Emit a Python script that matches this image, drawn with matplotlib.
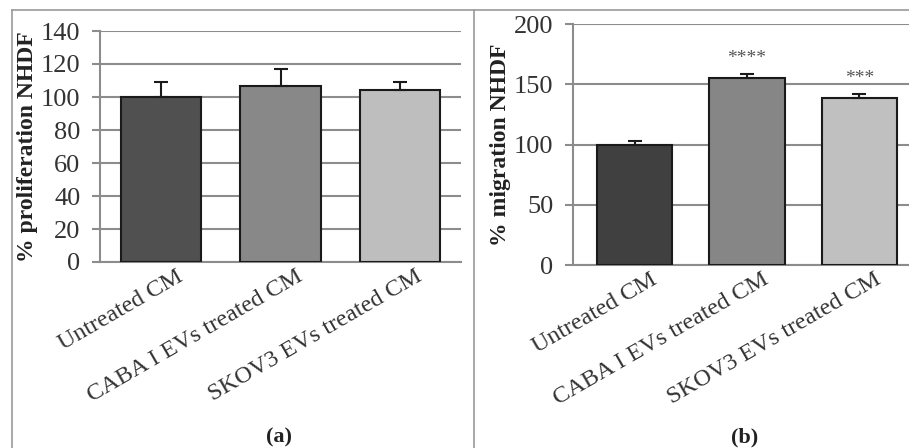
import matplotlib.pyplot as plt
import matplotlib.transforms as mtrans
from matplotlib.lines import Line2D

categories = ['Untreated CM', 'CABA I EVs treated CM', 'SKOV3 EVs treated CM']

# panel (a) proliferation
prolif = [100, 106.5, 104.5]
prolif_err = [9, 10.5, 4.5]

# panel (b) migration
migr = [100, 155, 138.5]
migr_err = [3, 3.5, 3.5]
migr_sig = ['', '****', '***']

colors_a = ['#505050', '#888888', '#bebebe']
colors_b = ['#404040', '#868686', '#c0c0c0']

plt.rcParams['font.family'] = ['Liberation Serif', 'DejaVu Serif']
W, H = 909, 448
fig = plt.figure(figsize=(W / 100, H / 100), dpi=100)
fig.patch.set_facecolor('white')

def box(x0, y0, x1, y1):
    return [x0 / W, y0 / H, (x1 - x0) / W, (y1 - y0) / H]

# axes positions (px from left / bottom)
ax_a = fig.add_axes(box(100, H - 262, 461, H - 31))
ax_b = fig.add_axes(box(573, H - 265, 940, H - 24.3))

grid_c = '#8c8c8c'

def style(ax, vals, errs, cols, ymax, step, ylabel, xlim):
    x = range(len(vals))
    ax.bar(x, vals, width=0.67, color=cols, edgecolor='#1a1a1a', linewidth=1.5, zorder=3)
    ax.errorbar(x, vals, yerr=[[0] * len(errs), errs], fmt='none', ecolor='#1a1a1a',
                elinewidth=1.5, capsize=5, capthick=1.5, zorder=4)
    ax.set_ylim(0, ymax)
    ax.set_xlim(*xlim)
    ax.set_yticks(range(0, ymax + 1, step))
    ax.yaxis.grid(True, color=grid_c, linewidth=1.5, zorder=0)
    ax.set_axisbelow(True)
    for s in ['top', 'right']:
        ax.spines[s].set_visible(False)
    for s in ['left', 'bottom']:
        ax.spines[s].set_color(grid_c)
        ax.spines[s].set_linewidth(1.5)
    ax.tick_params(axis='y', length=6, width=1.5, color=grid_c, labelsize=19,
                   labelcolor='#333333', pad=8)
    ax.tick_params(axis='x', length=0, pad=3)
    ax.set_xticks(list(x))
    ax.set_xticklabels(categories, rotation=30, ha='right', rotation_mode='anchor',
                       fontsize=17.5, color='#333333')
    ax.set_ylabel(ylabel, fontsize=17, fontweight='bold', color='#222222', labelpad=2)
    ax.patch.set_alpha(0)

style(ax_a, prolif, prolif_err, colors_a, 140, 20, '% proliferation NHDF', (-0.51, 2.51))
style(ax_b, migr, migr_err, colors_b, 200, 50, '% migration NHDF', (-0.55, 2.72))

for i, s in enumerate(migr_sig):
    if s:
        ax_b.text(i, migr[i] + migr_err[i] + 6, s, ha='center', va='bottom',
                  fontsize=14, color='#555555')

# shift rotated tick labels to sit right of category centre
for ax in (ax_a, ax_b):
    off = mtrans.ScaledTranslation(15 / 100, 0, fig.dpi_scale_trans)
    for lab in ax.get_xticklabels():
        lab.set_transform(lab.get_transform() + off)

# panel frames
fc = '#9a9a9a'
fig.add_artist(Line2D([12 / W, 12 / W], [0, 1 - 10 / H], color=fc, linewidth=1.2))
fig.add_artist(Line2D([474 / W, 474 / W], [0, 1 - 10 / H], color=fc, linewidth=1.2))
fig.add_artist(Line2D([12 / W, 1], [1 - 10 / H, 1 - 10 / H], color=fc, linewidth=1.2))

fig.text(279 / W, 1 - 437 / H, '(a)', ha='center', va='center', fontsize=16,
         fontweight='bold', color='#222222')
fig.text(745 / W, 1 - 437 / H, '(b)', ha='center', va='center', fontsize=16,
         fontweight='bold', color='#222222')

fig.savefig('out.png', dpi=100)
